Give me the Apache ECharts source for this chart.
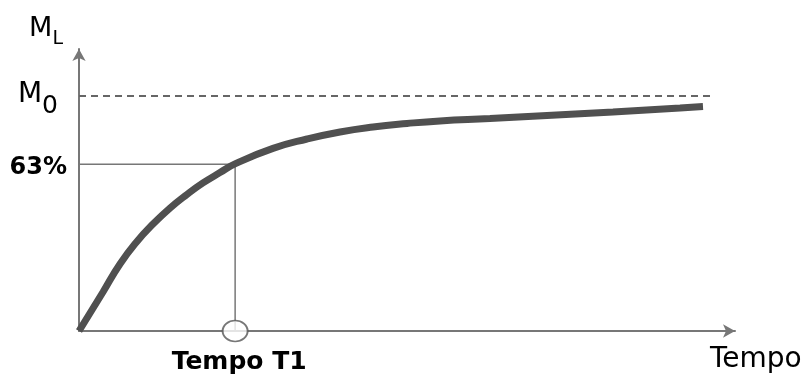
<!DOCTYPE html>
<html>
<head>
<meta charset="utf-8">
<script src="https://cdn.jsdelivr.net/npm/echarts@6/dist/echarts.min.js"></script>
<style>
html,body{margin:0;padding:0;background:#fff;}
#chart{width:805px;height:376px;}
</style>
</head>
<body>
<div id="chart"></div>
<script>
// Data
const timeValues = [0, 3.66, 6.25, 8.84, 11.28, 13.87, 16.46, 18.90, 21.49, 23.78, 29.57, 34.76, 39.79, 44.82, 50.00, 55.03, 62.65, 71.34, 81.40, 91.62, 95.12];
const magnetValues = [0, 16.6, 28.5, 38.1, 45.5, 52.3, 58.1, 63.0, 67.4, 71.1, 77.7, 81.7, 84.7, 86.8, 88.3, 89.4, 90.4, 91.7, 93.2, 94.9, 95.5];
const t1Value = 23.8;
const level63 = 71;
const m0Value = 100;
const m0LineEnd = 96.2;
const yTickValues = [level63, m0Value];
const xTickValues = [t1Value];
const xTickLabel = 'Tempo T1';
const xAxisName = 'Tempo';

const curveData = timeValues.map((t, i) => [t, magnetValues[i]]);

const chart = echarts.init(document.getElementById('chart'), null, {renderer: 'canvas'});
const axisColor = '#777';
const font = 'DejaVu Sans';

chart.setOption({
  animation: false,
  backgroundColor: '#fff',
  grid: {left: 79, right: 70, top: 49, bottom: 45, containLabel: false, outerBoundsMode: 'none'},
  xAxis: {
    type: 'value', min: 0, max: 100,
    axisLine: {show: true, lineStyle: {color: axisColor, width: 2}, symbol: ['none', 'arrow'], symbolSize: [10, 12]},
    axisTick: {show: false},
    splitLine: {show: false},
    axisLabel: {
      customValues: xTickValues,
      formatter: () => xTickLabel,
      fontFamily: font, fontWeight: 'bold', fontSize: 25, color: '#000', margin: 19,
      padding: [0, 0, 0, 8]
    },
    name: xAxisName,
    nameLocation: 'end',
    nameGap: -25,
    nameTextStyle: {fontFamily: font, fontSize: 28, color: '#000', align: 'left', verticalAlign: 'top', padding: [15, 0, 0, 0]}
  },
  yAxis: {
    type: 'value', min: 0, max: 120,
    axisLine: {show: true, lineStyle: {color: axisColor, width: 2}, symbol: ['none', 'arrow'], symbolSize: [10, 12]},
    axisTick: {show: false},
    splitLine: {show: false},
    axisLabel: {
      customValues: yTickValues,
      margin: 12,
      padding: [8, 0, 0, 0],
      formatter: (v) => v === m0Value ? '{m|M}{s|0}{pad| }' : '{p|63%}',
      rich: {
        m: {fontFamily: font, fontSize: 28, color: '#000', lineHeight: 28, verticalAlign: 'top'},
        s: {fontFamily: font, fontSize: 25, color: '#000', lineHeight: 25, verticalAlign: 'bottom'},
        pad: {fontSize: 10, lineHeight: 38, width: 9, verticalAlign: 'top'},
        p: {fontFamily: font, fontSize: 24, fontWeight: 'bold', color: '#000'}
      }
    },
    name: '{m|M}{l|L}',
    nameLocation: 'end',
    nameGap: 0,
    nameTextStyle: {
      align: 'right', verticalAlign: 'bottom', padding: [0, 16, 0, 0],
      rich: {
        m: {fontFamily: font, fontSize: 27, color: '#000', lineHeight: 27, verticalAlign: 'top'},
        l: {fontFamily: font, fontSize: 19, color: '#000', lineHeight: 34, verticalAlign: 'bottom'}
      }
    }
  },
  series: [
    {
      type: 'line', data: [[0, m0Value], [m0LineEnd, m0Value]],
      showSymbol: false, symbol: 'none',
      lineStyle: {color: '#666', width: 2, type: [7, 5]}, z: 2
    },
    {
      type: 'line', data: [[0, level63], [t1Value, level63], [t1Value, 0]],
      showSymbol: false, symbol: 'none',
      lineStyle: {color: '#777', width: 1.5}, z: 2
    },
    {
      type: 'line', data: curveData, smooth: 0.5,
      showSymbol: false, symbol: 'none',
      lineStyle: {color: '#505050', width: 7, cap: 'butt'}, z: 3
    },
    {
      type: 'scatter', data: [[t1Value, 0]],
      symbol: 'circle', symbolSize: [25, 21],
      itemStyle: {color: '#fff', borderColor: '#555', borderWidth: 1.8}, z: 5
    }
  ]
});
</script>
</body>
</html>
